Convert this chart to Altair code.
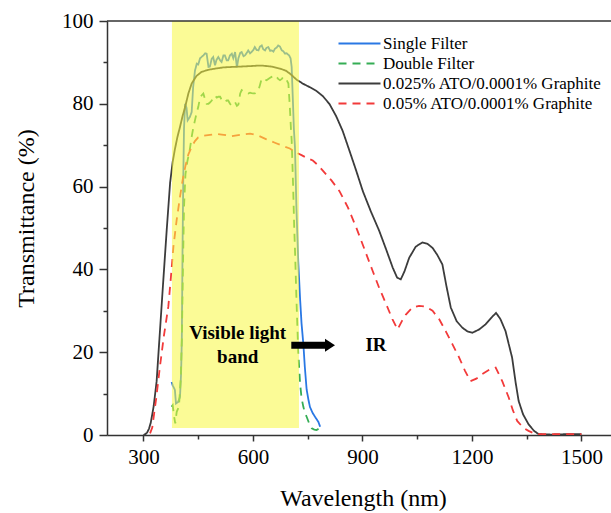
import altair as alt
import pandas as pd

# ---------------- data ----------------
series_names = ["Single Filter", "Double Filter",
                "0.025% ATO/0.0001% Graphite", "0.05% ATO/0.0001% Graphite"]
series_colors = ["#2a78e4", "#35ad55", "#3c3c3c", "#f23a3a"]
series_dash = [[1, 0], [8, 6], [1, 0], [8, 6]]

single_wl = [377, 380, 386, 389, 395, 400, 403, 405, 407, 409, 411, 414, 418, 421, 427, 432, 436, 441, 446, 450,
             455, 464, 469, 473, 478, 482, 487, 491, 496, 500, 505, 510, 514, 519, 523, 528, 532, 537, 542, 546,
             551, 556, 560, 565, 569, 574, 578, 583, 587, 592, 596, 601, 605, 610, 615, 619, 624, 628, 633, 637,
             642, 647, 651, 656, 660, 665, 669, 674, 679, 683, 688, 692, 699, 703, 706, 708, 710, 712, 715, 719,
             724, 729, 733, 738, 742, 747, 752, 756, 763, 770, 779, 784]
single_t = [12.8, 12.0, 10.9, 7.6, 8.0, 9.2, 14.9, 22.9, 45, 62, 74, 80, 79, 76, 76.8, 78, 84, 88, 89.7, 89.5,
            91.0, 91.7, 92.2, 92.1, 88.9, 89.0, 90.9, 91.3, 89.3, 90.6, 91.3, 90.5, 90.1, 91.7, 91.7, 90.5, 90.5, 91.7, 92.1, 91.0,
            92.5, 88.8, 91.0, 92.3, 92.5, 91.5, 91.7, 92.3, 92.9, 92.2, 92.5, 93.0, 93.7, 93.0, 92.9, 93.8, 94.1, 93.2, 92.9, 93.5,
            93.7, 92.8, 92.9, 92.6, 93.3, 93.6, 94.1, 93.8, 92.9, 92.7, 92.1, 92.2, 91.7, 91.0, 88.9, 84, 79.2, 74, 69.6, 55,
            42, 33, 27, 22, 16.5, 11, 8.5, 6.8, 5.4, 4.4, 3.2, 2.0]

double_wl = [377, 380, 384, 387, 391, 397, 402, 405, 408, 411, 415, 420, 427, 432, 436, 441, 446, 450, 455, 459,
             464, 469, 473, 478, 482, 487, 491, 496, 501, 505, 510, 514, 519, 523, 528, 532, 537, 541, 546, 551,
             556, 560, 565, 569, 574, 578, 583, 587, 592, 596, 601, 605, 610, 615, 619, 624, 628, 633, 637, 642,
             647, 651, 656, 660, 665, 669, 674, 679, 683, 688, 692, 697, 701, 704, 706, 710, 713, 715, 719, 724,
             729, 733, 738, 742, 747, 754, 761, 768, 774, 780]
double_t = [6.8, 7.2, 4.4, 2.8, 5.6, 6.8, 13.3, 23, 40, 55, 63, 66, 69, 72, 74, 76, 78, 79.2, 81.5, 82,
            82.5, 81, 80, 80, 80.3, 80.8, 81.5, 82, 81.5, 81.7, 81.7, 81, 80.4, 80.5, 80.8, 80.8, 80, 79.6, 79.8, 80.4,
            79.5, 79.8, 82.5, 83.3, 83, 82.9, 82.7, 82.5, 82.7, 82.6, 82.5, 82.5, 82.8, 83.3, 84.5, 86.1, 86.0, 85.8, 85.7, 86.0,
            86.3, 86.5, 86.7, 86.9, 86.5, 86.0, 85.7, 86.0, 86.5, 86.3, 85.8, 84.9, 79.2, 74, 71.2, 60, 50, 45, 33, 20,
            12.5, 9.0, 6.8, 5.5, 4.4, 2.8, 1.6, 1.3, 1.2, 1.5]

ato025_wl = [300, 305, 310, 315, 320, 328, 336, 345, 354, 364, 373, 380, 386, 393, 400, 407, 414, 423, 432, 445,
             459, 477, 496, 520, 542, 567, 592, 610, 628, 650, 674, 690, 701, 710, 720, 738, 756, 774, 792, 810,
             828, 846, 865, 883, 901, 923, 946, 965, 983, 995, 1005, 1015, 1028, 1046, 1064, 1078, 1092, 1105, 1119, 1130,
             1142, 1158, 1174, 1188, 1201, 1220, 1237, 1255, 1266, 1278, 1292, 1310, 1320, 1328, 1340, 1355, 1370, 1383, 1420, 1460,
             1500]
ato025_t = [0, 0.2, 0.6, 1.5, 3, 7, 13, 25, 37, 50, 61, 66, 69, 72, 74.4, 77, 79.2, 82.5, 84.9, 86.7,
            87.7, 88.2, 88.5, 88.8, 88.9, 89.0, 89.1, 89.2, 89.2, 89.0, 88.5, 88.0, 87.3, 86.6, 85.8, 84.8, 84.0, 83.1, 81.8, 79.9,
            77, 73.4, 68.5, 63.8, 58.9, 54, 49.3, 44.8, 40.4, 38, 37.6, 39.5, 42.8, 45.5, 46.5, 46.2, 45.2, 43.5, 41.2, 36,
            30.8, 27.5, 25.9, 25, 24.7, 25.5, 26.7, 28.5, 29.5, 28, 25.1, 18.7, 12.5, 8.2, 5, 2.6, 1, 0.2, 0.1, 0.2,
            0.2]

ato05_wl = [318, 324, 335, 345, 356, 368, 375, 382, 391, 400, 408, 415, 423, 432, 441, 450, 464, 482, 500, 520,
            542, 565, 592, 615, 637, 660, 683, 701, 719, 733, 746, 764, 778, 792, 815, 837, 860, 883, 905, 928,
            946, 965, 982, 996, 1008, 1019, 1037, 1055, 1073, 1092, 1110, 1128, 1146, 1165, 1181, 1196, 1212, 1228, 1248, 1265,
            1283, 1301, 1312, 1324, 1340, 1355, 1370, 1383, 1420, 1460, 1500]
ato05_t = [0.4, 1.8, 9, 16.5, 24, 31, 38, 45.5, 52, 57.5, 62, 65, 67.8, 69.6, 71, 71.9, 72.3, 72.5, 72.7, 72.5,
           72.2, 72.5, 72.8, 72.3, 71.4, 70.6, 69.8, 69.2, 68.2, 67.6, 67.0, 66.3, 65.2, 63.8, 61.5, 58.9, 55, 50.1, 45, 39.6,
           35.5, 31.6, 28, 25.5, 27.5, 29.1, 30.8, 31.2, 31, 30, 28, 25.1, 22, 18.7, 15.5, 13, 13.6, 14.7, 15.8, 16.3,
           13, 9, 6, 3.4, 1.8, 1, 0.4, 0.2, 0.2, 0.2, 0.2]

# annotation content
band_range = [378, 726]
band_t = [1.7, 100]
band_labels = ["Visible light", "band"]
band_label_wl = [558, 558]
band_label_t = [24.6, 18.8]
arrow_wl = [705, 800]
arrow_head_wl = 811
arrow_t = 21.7
ir_label = "IR"
ir_wl = 937
ir_t = 21.7

x_ticks = [300, 450, 600, 750, 900, 1050, 1200, 1350, 1500]
y_ticks = [0, 10, 20, 30, 40, 50, 60, 70, 80, 90, 100]

# ---------------- frames ----------------
rows = []
for name, wl, t in [(series_names[0], single_wl, single_t),
                    (series_names[1], double_wl, double_t),
                    (series_names[2], ato025_wl, ato025_t),
                    (series_names[3], ato05_wl, ato05_t)]:
    for i, (w, v) in enumerate(zip(wl, t)):
        rows.append({"series": name, "wl": w, "T": v, "idx": i})
df = pd.DataFrame(rows)

FONT = "Liberation Serif"
W, H = 504, 414

xscale = alt.Scale(domain=[200, 1581], nice=False, zero=False)
yscale = alt.Scale(domain=[0, 100], nice=False)

legend = alt.Legend(
    title=None, orient="none", legendX=244, legendY=14,
    symbolType="M-3,0L3,0", symbolSize=196, symbolStrokeWidth=2,
    labelFont=FONT, labelFontSize=17, labelColor="black", labelLimit=400,
    rowPadding=2, padding=0, labelOffset=15,
)

xaxis = alt.Axis(
    values=x_ticks, format="d",
    labelExpr="datum.value % 300 === 0 ? datum.label : ''",
    tickSize={"condition": {"test": "datum.value % 300 === 0", "value": 6}, "value": 4},
    labelPadding=5, title="Wavelength (nm)", grid=False,
    titleX=256, titleY=63, titleBaseline="middle", titleAlign="center",
)
yaxis = alt.Axis(
    values=y_ticks,
    labelExpr="datum.value % 20 === 0 ? datum.label : ''",
    tickSize={"condition": {"test": "datum.value % 20 === 0", "value": 8}, "value": 4},
    labelPadding=6, title="Transmittance (%)", grid=False,
    titleX=-81, titleY=197, titleBaseline="middle", titleAlign="center", titleAngle=270,
)

lines = alt.Chart(df).mark_line(strokeWidth=1.8).encode(
    x=alt.X("wl:Q", scale=xscale, axis=xaxis),
    y=alt.Y("T:Q", scale=yscale, axis=yaxis),
    color=alt.Color("series:N", scale=alt.Scale(domain=series_names, range=series_colors), legend=legend),
    strokeDash=alt.StrokeDash("series:N", scale=alt.Scale(domain=series_names, range=series_dash), legend=legend),
    order="idx:Q",
)

band_df = pd.DataFrame({"x": [band_range[0]], "x2": [band_range[1]], "y": [band_t[0]], "y2": [band_t[1]]})
band = alt.Chart(band_df).mark_rect(color="#f8f840", opacity=0.55).encode(
    x=alt.X("x:Q", scale=xscale), x2="x2:Q",
    y=alt.Y("y:Q", scale=yscale), y2="y2:Q",
)

arrow_df = pd.DataFrame({"x": [arrow_wl[0]], "x2": [arrow_wl[1]], "y": [arrow_t]})
arrow = alt.Chart(arrow_df).mark_rule(color="black", strokeWidth=7).encode(
    x=alt.X("x:Q", scale=xscale), x2="x2:Q", y=alt.Y("y:Q", scale=yscale),
)
head_df = pd.DataFrame({"x": [arrow_head_wl], "y": [arrow_t]})
head = alt.Chart(head_df).mark_point(
    shape="M-0.77,-1L0.77,0L-0.77,1Z", filled=True, color="black", opacity=1, size=169,
).encode(x=alt.X("x:Q", scale=xscale), y=alt.Y("y:Q", scale=yscale))

text_df = pd.DataFrame({"label": band_labels + [ir_label],
                        "x": band_label_wl + [ir_wl],
                        "y": band_label_t + [ir_t]})
texts = alt.Chart(text_df).mark_text(
    font=FONT, fontSize=19, fontWeight="bold", color="black", align="center", baseline="middle",
).encode(x=alt.X("x:Q", scale=xscale), y=alt.Y("y:Q", scale=yscale), text="label:N")

top_df = pd.DataFrame({"y": [100]})
top_rule = alt.Chart(top_df).mark_rule(color="#333333", strokeWidth=1.5).encode(
    y=alt.Y("y:Q", scale=yscale), x=alt.value(0), x2=alt.value(W),
)

chart = alt.layer(lines, band, arrow, head, texts, top_rule).properties(
    width=W, height=H,
    autosize=alt.AutoSizeParams(type="none"),
    padding={"left": 107, "top": 21, "right": 0, "bottom": 78},
).configure_view(stroke=None).configure_axis(
    domainColor="#333333", domainWidth=1.5, tickColor="#333333", tickWidth=1.5,
    labelFont=FONT, labelFontSize=21, labelColor="black",
    titleFont=FONT, titleFontSize=24, titleFontWeight="normal", titleColor="black",
)

chart.save("out.html", embed_options={"renderer": "svg", "actions": False})
